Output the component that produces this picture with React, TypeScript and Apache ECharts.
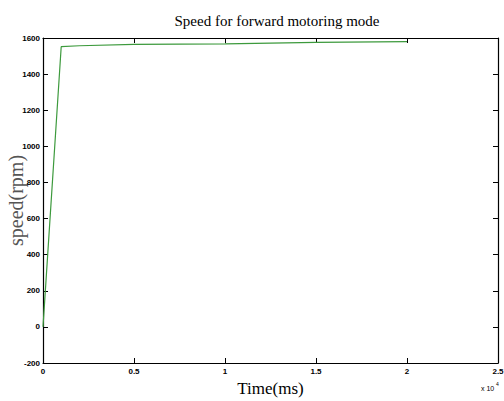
import React, { useEffect, useRef } from "react";
import * as echarts from "echarts";

const timeX = [0, 0.1, 0.2, 0.5, 1.0, 1.5, 2.0];
const speed = [0, 1552, 1557, 1565, 1568, 1576, 1580];
const xTicks = ["0", "0.5", "1", "1.5", "2", "2.5"];

export default function App() {
  const ref = useRef<HTMLDivElement>(null);
  useEffect(() => {
    if (!ref.current) return;
    const chart = echarts.init(ref.current, null, { renderer: "svg" });
    const tickFont = { fontFamily: "'Liberation Sans Narrow', 'Arial Narrow', 'Liberation Sans', sans-serif", fontSize: 8, color: "#000", fontWeight: "bold" as const };
    const axisLine = { show: true, onZero: false, lineStyle: { color: "#000", width: 1.2 } };
    chart.setOption({
      animation: false,
      backgroundColor: "#fff",
      title: {
        text: "Speed for forward motoring mode",
        left: 272,
        top: 8,
        textAlign: "center",
        textStyle: { fontFamily: "'Liberation Serif', 'Times New Roman', serif", fontSize: 15, fontWeight: "normal", color: "#000" },
      },
      grid: { left: 43, right: 6, top: 38, bottom: 38, show: false, containLabel: false, outerBoundsMode: "none" },
      xAxis: [
        {
          type: "value", min: 0, max: 2.5, interval: 0.5, position: "bottom",
          axisLine, splitLine: { show: false },
          axisTick: { inside: true, length: 5, lineStyle: { color: "#000" } },
          axisLabel: { ...tickFont, margin: 4, formatter: (v: number) => xTicks[Math.round(v / 0.5)] },
          name: "Time(ms)", nameLocation: "middle", nameGap: 17, nameMoveOverlap: false,
          nameTextStyle: { fontFamily: "'Liberation Serif', 'Times New Roman', serif", fontSize: 17, color: "#000" },
        },
        {
          type: "value", min: 0, max: 2.5, interval: 0.5, position: "top",
          axisLine, splitLine: { show: false },
          axisTick: { inside: true, length: 5, lineStyle: { color: "#000" } },
          axisLabel: { show: false },
        },
      ],
      yAxis: [
        {
          type: "value", min: -200, max: 1600, interval: 200, position: "left",
          axisLine, splitLine: { show: false },
          axisTick: { inside: true, length: 5, lineStyle: { color: "#000" } },
          axisLabel: { ...tickFont, margin: 3, formatter: (v: number) => String(v) },
          name: "speed(rpm)", nameLocation: "middle", nameGap: 17, nameMoveOverlap: false,
          nameTextStyle: { fontFamily: "'Liberation Serif', 'Times New Roman', serif", fontSize: 20, color: "#555" },
        },
        {
          type: "value", min: -200, max: 1600, interval: 200, position: "right",
          axisLine, splitLine: { show: false },
          axisTick: { inside: true, length: 5, lineStyle: { color: "#000" } },
          axisLabel: { show: false },
        },
      ],
      graphic: [
        {
          type: "text", left: 481, top: 385,
          style: { text: "x 10", fontFamily: "'Liberation Sans Narrow', 'Liberation Sans', sans-serif", fontSize: 7, fill: "#000" },
        },
        {
          type: "text", left: 496, top: 381,
          style: { text: "4", fontFamily: "'Liberation Sans Narrow', 'Liberation Sans', sans-serif", fontSize: 5, fill: "#000" },
        },
      ],
      series: [
        {
          type: "line",
          xAxisIndex: 0, yAxisIndex: 0,
          data: timeX.map((x, i) => [x, speed[i]]),
          showSymbol: false,
          lineStyle: { color: "#3d9a3d", width: 1.2 },
        },
      ],
    });
    return () => chart.dispose();
  }, []);
  return <div ref={ref} style={{ position: "absolute", left: 0, top: 0, width: 504, height: 401 }} />;
}
